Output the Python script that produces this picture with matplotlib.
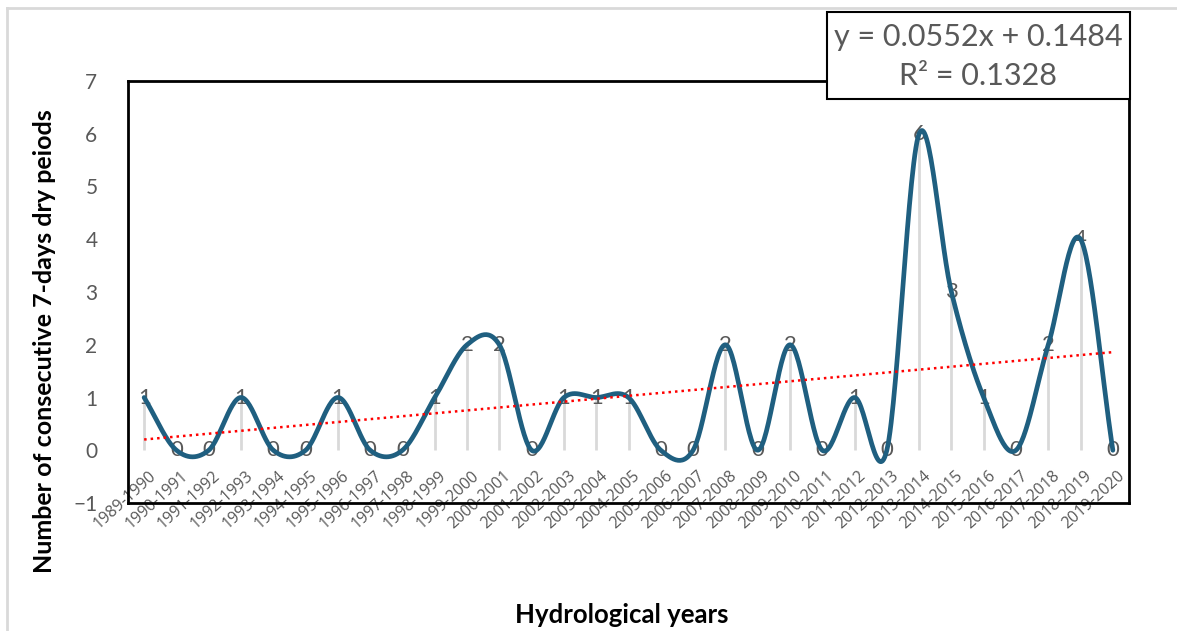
import numpy as np
import matplotlib.pyplot as plt
from matplotlib.patches import Rectangle
from matplotlib.lines import Line2D

plt.rcParams['font.family'] = ['Lato', 'DejaVu Sans']

# hydrological years and number of consecutive 7-day dry periods
years = ['1989-1990', '1990-1991', '1991-1992', '1992-1993', '1993-1994',
         '1994-1995', '1995-1996', '1996-1997', '1997-1998', '1998-1999',
         '1999-2000', '2000-2001', '2001-2002', '2002-2003', '2003-2004',
         '2004-2005', '2005-2006', '2006-2007', '2007-2008', '2008-2009',
         '2009-2010', '2010-2011', '2011-2012', '2012-2013', '2013-2014',
         '2014-2015', '2015-2016', '2016-2017', '2017-2018', '2018-2019',
         '2019-2020']
dry_periods = [1, 0, 0, 1, 0, 0, 1, 0, 0, 1, 2, 2, 0, 1, 1, 1,
               0, 0, 2, 0, 2, 0, 1, 0, 6, 3, 1, 0, 2, 4, 0]

# linear trend as reported
slope = 0.0552
intercept = 0.1484
r2 = 0.1328

GREY = '#595959'
LINE = '#1f5f80'


def smooth_line(x, y, steps=30):
    # catmull-rom spline through every point (same look as a "smoothed line")
    x = np.asarray(x, float)
    y = np.asarray(y, float)
    px = np.concatenate([[2 * x[0] - x[1]], x, [2 * x[-1] - x[-2]]])
    py = np.concatenate([[y[0]], y, [y[-1]]])
    xs, ys = [], []
    t = np.linspace(0, 1, steps, endpoint=False)
    for i in range(1, len(px) - 2):
        m1 = (py[i + 1] - py[i - 1]) / 2
        m2 = (py[i + 2] - py[i]) / 2
        if i == 1:
            m1 = py[i + 1] - py[i]
        if i == len(px) - 3:
            m2 = py[i + 1] - py[i]
        h00 = 2 * t**3 - 3 * t**2 + 1
        h10 = t**3 - 2 * t**2 + t
        h01 = -2 * t**3 + 3 * t**2
        h11 = t**3 - t**2
        xs.append(px[i] + t * (px[i + 1] - px[i]))
        ys.append(h00 * py[i] + h10 * m1 + h01 * py[i + 1] + h11 * m2)
    xs.append([x[-1]])
    ys.append([y[-1]])
    return np.concatenate(xs), np.concatenate(ys)


fig = plt.figure(figsize=(11.77, 6.31), dpi=100)
ax = fig.add_axes([128 / 1177, 1 - 503 / 631, 1001 / 1177, 422 / 631])

x = np.arange(1, len(years) + 1)

# drop lines down to the zero line
ax.vlines(x, 0, dry_periods, color='#d9d9d9', lw=2, zorder=1)

# data labels sit right on the points
for xi, v in zip(x, dry_periods):
    ax.text(xi, v, str(v), ha='center', va='center', fontsize=16,
            color=GREY, zorder=2)

sx, sy = smooth_line(x, dry_periods)
ax.plot(sx, sy, color=LINE, lw=3.4, solid_capstyle='round', zorder=3)

# trend line
ax.plot(x, slope * x + intercept, color='#ff0000', lw=1.8, ls=(0, (1, 1.6)),
        zorder=4)

ax.set_xlim(0.5, len(years) + 0.5)
ax.set_ylim(-1, 7)
ax.set_yticks(range(-1, 8))
ax.set_xticks([])
ax.tick_params(axis='y', length=0, pad=22, labelsize=15, labelcolor=GREY)
for sp in ax.spines.values():
    sp.set_linewidth(2)
    sp.set_color('black')

# category labels hang below the zero line
for xi, lab in zip(x, years):
    ax.annotate(lab, (xi, 0), xytext=(3, -13), textcoords='offset points',
                rotation=42, rotation_mode='anchor', ha='right', va='top',
                fontsize=11.5, color=GREY, zorder=2,
                family=['Open Sans', 'DejaVu Sans'])

fig.text(622 / 1177, 1 - 615 / 631, 'Hydrological years', ha='center',
         va='center', fontsize=18.5, fontweight='bold', color='black')
fig.text(45 / 1177, 1 - 341 / 631, 'Number of consecutive 7-days dry peiods',
         ha='center', va='center', rotation=90, fontsize=18,
         fontweight='bold', color='black')

# outer chart border (top and left edges visible)
fig.add_artist(Line2D([7 / 1177, 1], [1 - 8 / 631, 1 - 8 / 631],
                      color='#d9d9d9', lw=2))
fig.add_artist(Line2D([7 / 1177, 7 / 1177], [0, 1 - 8 / 631],
                      color='#d9d9d9', lw=2))

# trendline equation box
box = Rectangle((827 / 1177, 1 - 99 / 631), 303 / 1177, 87 / 631,
                transform=fig.transFigure, facecolor='white',
                edgecolor='black', lw=1.5, zorder=5)
fig.add_artist(box)
fig.text(978 / 1177, 1 - 37 / 631, f'y = {slope}x + {intercept}',
         ha='center', va='center', fontsize=22, color=GREY, zorder=6)
fig.text(978 / 1177, 1 - 76 / 631, f'R² = {r2}',
         ha='center', va='center', fontsize=22, color=GREY, zorder=6)

fig.savefig('out.png', dpi=100)
